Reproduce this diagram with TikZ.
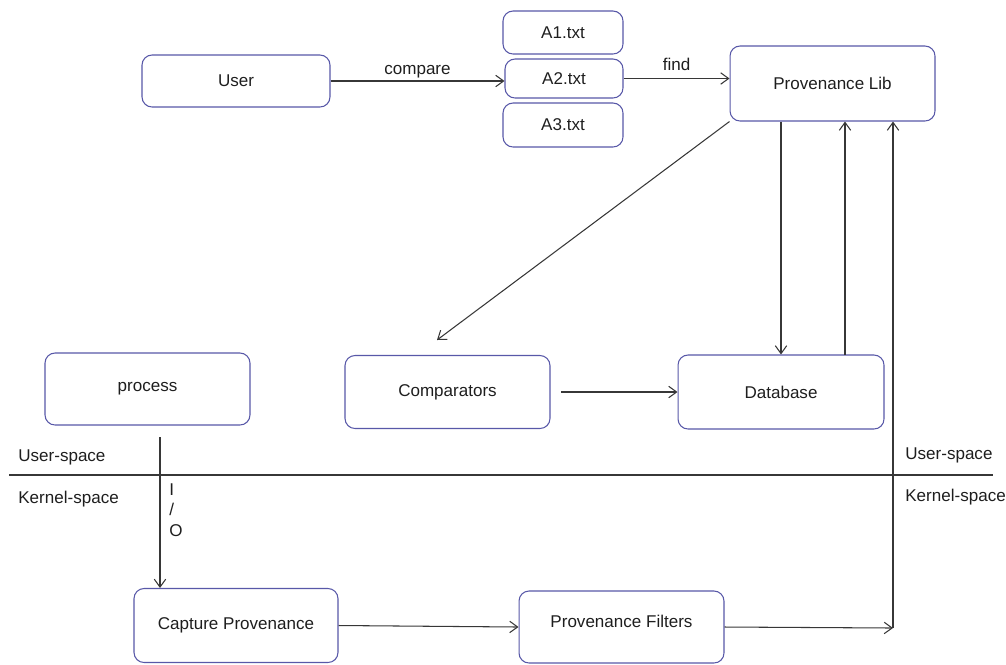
\documentclass[tikz,border=0pt]{standalone}
\usepackage{fontspec}
\setmainfont{Liberation Sans}
\usetikzlibrary{arrows.meta}
\definecolor{boxblue}{RGB}{88,88,168}
\definecolor{linegray}{RGB}{55,55,55}
\definecolor{textgray}{RGB}{30,30,30}

\begin{document}
\begin{tikzpicture}
    [
        x=0.02cm, y=-0.02cm,
        box/.style = {draw=boxblue, text=textgray, shape=rectangle, rounded corners=0.2cm, line width=0.6pt, font=\fontsize{9.7}{11.6}\selectfont},
        lbl/.style = {text=textgray, font=\fontsize{9.7}{11.6}\selectfont, inner sep=0pt},
        arr/.style = {draw=linegray, line width=0.6pt, -{Straight Barb[length=4.5pt,width=6.5pt]}},
    ]
    \useasboundingbox (0,0) rectangle (1006,664);

    \node[box, minimum width=3.76cm, minimum height=1.04cm] (user) at (236,81) {User};

    \node[box, minimum width=2.4cm, minimum height=0.86cm] (a1) at (563,32.5) {A1.txt};
    \node[box, minimum width=2.36cm, minimum height=0.78cm] (a2) at (564,78.5) {A2.txt};
    \node[box, minimum width=2.4cm, minimum height=0.88cm] (a3) at (563,125) {A3.txt};

    \node[box, minimum width=4.1cm, minimum height=1.5cm] (provlib) at (832.5,83.5) {Provenance Lib};

    \node[box, minimum width=4.1cm, minimum height=1.44cm] (process) at (147.5,389) {process};
    \node[box, minimum width=4.1cm, minimum height=1.46cm] (comparators) at (447.5,392) {Comparators};
    \node[box, minimum width=4.12cm, minimum height=1.48cm] (database) at (781,392) {Database};

    \node[box, minimum width=4.08cm, minimum height=1.48cm] (capture) at (236,625.5) {Capture Provenance};
    \node[box, minimum width=4.1cm, minimum height=1.44cm, text depth=6pt] (filters) at (621.5,627) {Provenance Filters};

    % user-space / kernel-space split
    \draw [linegray, line width=0.6pt] (9,475) -- (993,475);
    \node[lbl, anchor=west] (uleft) at (18,457) {User-space};
    \node[lbl, anchor=west] (kleft) at (18,499) {Kernel-space};
    \node[lbl, anchor=west] (uright) at (905,455) {User-space};
    \node[lbl, anchor=west] (kright) at (905,497) {Kernel-space};

    \coordinate (cmpin) at (437,340);
    \coordinate (dbup) at (845,355);
    \coordinate (pio) at (160,437);
    \coordinate (junc) at (893,628);

    \draw [arr] (user.east) -- (user.east -| a2.west) node[lbl, midway, above=1.5pt] {compare};
    \draw [arr] (a2.east) -- (a2.east -| provlib.west) node[lbl, midway, above=4pt] {find};

    \draw [arr] (provlib.south west) -- (cmpin);
    \draw [arr] (provlib.south -| database.north) -- (database.north);
    \draw [arr] (dbup) -- (dbup |- provlib.south);

    \draw [arr, shorten <=6pt] (comparators.east) -- (database.west);

    \draw [arr] (pio) -- (pio |- capture.north);
    \node[lbl, align=left] (io) at (176,510) {I\\/\\O};

    \draw [arr] (capture.east) -- (filters.west);
    \draw [arr] (filters.east) -- (junc);
    \draw [arr] (junc) -- (junc |- provlib.south);
\end{tikzpicture}
\end{document}
